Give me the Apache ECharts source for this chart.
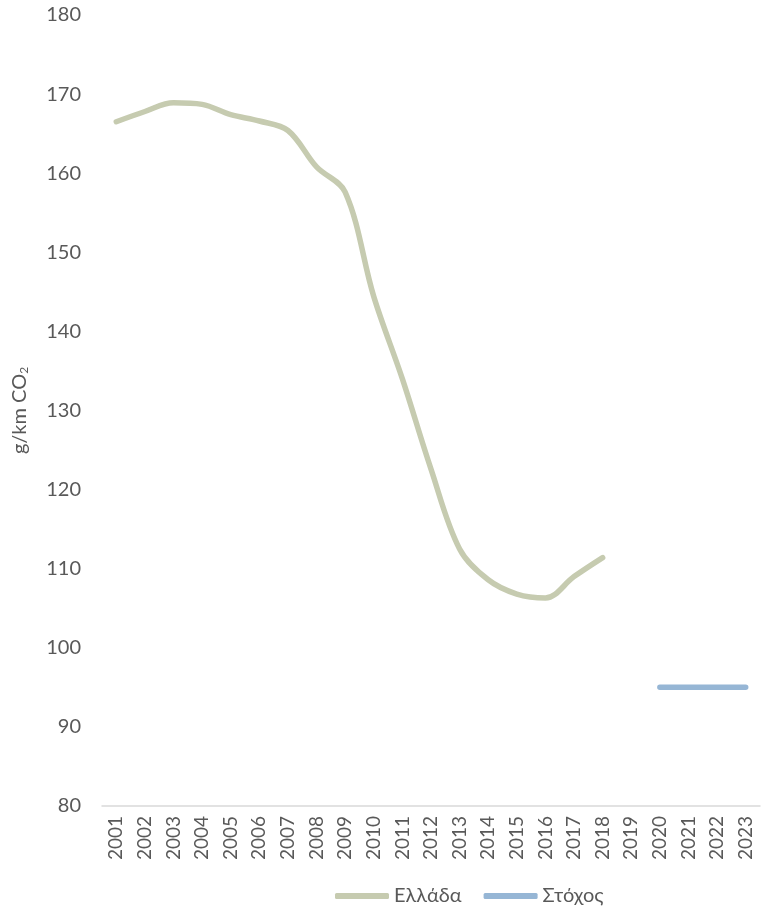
<!DOCTYPE html>
<html>
<head>
<meta charset="utf-8">
<script src="https://cdn.jsdelivr.net/npm/echarts@6/dist/echarts.min.js"></script>
<style>
  html, body { margin: 0; padding: 0; background: #fff; }
  #chart { width: 769px; height: 915px; }
</style>
</head>
<body>
<div id="chart"></div>
<script>
// έτη
var years = ['2001','2002','2003','2004','2005','2006','2007','2008','2009','2010','2011','2012',
  '2013','2014','2015','2016','2017','2018','2019','2020','2021','2022','2023'];
// Ελλάδα g/km CO2
var greece = [166.5, 167.8, 168.9, 168.7, 167.4, 166.6, 165.4, 160.8, 157.6, 144.4, 134.0, 122.6,
  112.5, 108.6, 106.8, 106.3, 109.0, 111.4, null, null, null, null, null];
// Στόχος
var target = [null, null, null, null, null, null, null, null, null, null, null, null,
  null, null, null, null, null, null, null, 95, 95, 95, 95];

var textColor = '#595959';
var font = 'Lato';

var chart = echarts.init(document.getElementById('chart'));
var option = {
  animation: false,
  grid: { left: 102, right: 9, top: 15, bottom: 109 },
  legend: {
    left: 330,
    top: 881,
    itemWidth: 54,
    itemHeight: 6,
    itemGap: 22,
    icon: 'roundRect',
    textStyle: { color: textColor, fontSize: 20, fontFamily: font },
    data: ['Ελλάδα', 'Στόχος']
  },
  xAxis: {
    type: 'category',
    data: years,
    boundaryGap: true,
    axisLine: { show: true, lineStyle: { color: '#d9d9d9', width: 1.5 } },
    axisTick: { show: false },
    axisLabel: {
      rotate: 90,
      interval: 0,
      margin: 10,
      color: textColor,
      fontSize: 19,
      fontFamily: font
    },
    splitLine: { show: false }
  },
  yAxis: {
    type: 'value',
    min: 80,
    max: 180,
    interval: 10,
    name: 'g/km CO{sub|2}',
    nameLocation: 'middle',
    nameGap: 72,
    nameTextStyle: {
      color: textColor,
      fontSize: 20,
      fontFamily: font,
      rich: {
        sub: { fontSize: 12, verticalAlign: 'bottom', padding: [9, 0, 0, 0], color: textColor, fontFamily: font }
      }
    },
    axisLine: { show: false },
    axisTick: { show: false },
    splitLine: { show: false },
    axisLabel: {
      margin: 21,
      color: textColor,
      fontSize: 20,
      fontFamily: font
    }
  },
  series: [
    {
      name: 'Ελλάδα',
      type: 'line',
      data: greece,
      smooth: 0.35,
      symbol: 'none',
      color: '#c6cbb0',
      lineStyle: { width: 5.5, color: '#c6cbb0', cap: 'round' }
    },
    {
      name: 'Στόχος',
      type: 'line',
      data: target,
      symbol: 'none',
      color: '#96b6d5',
      lineStyle: { width: 5.5, color: '#96b6d5', cap: 'round' }
    }
  ]
};
chart.setOption(option);
</script>
</body>
</html>
